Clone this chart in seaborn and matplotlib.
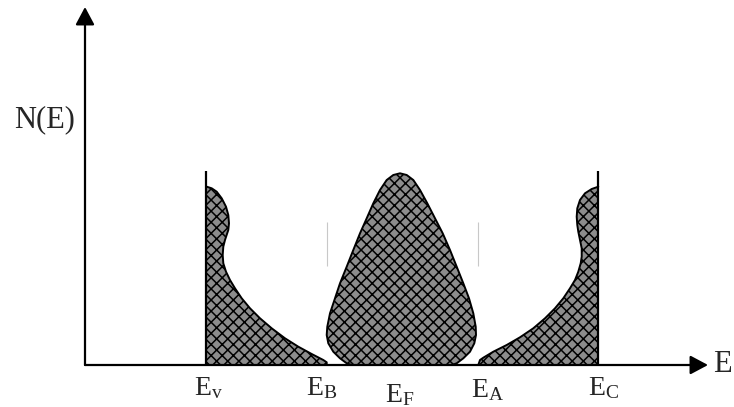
import matplotlib
matplotlib.use("Agg")
import matplotlib.pyplot as plt
import seaborn as sns

sns.set_style("white")
plt.rcParams["font.family"] = ["Liberation Serif", "DejaVu Serif"]
plt.rcParams["mathtext.fontset"] = "custom"
plt.rcParams["mathtext.rm"] = "Liberation Serif"
plt.rcParams["mathtext.it"] = "Liberation Serif:italic"
plt.rcParams["hatch.linewidth"] = 1.1

# Characteristic energies (arbitrary units)
level_labels = [r"$\mathrm{E}_\mathrm{v}$", r"$\mathrm{E}_\mathrm{B}$", r"$\mathrm{E}_\mathrm{F}$",
                r"$\mathrm{E}_\mathrm{A}$", r"$\mathrm{E}_\mathrm{C}$"]
level_E = [1.21, 2.42, 3.15, 3.93, 5.13]

# Valence band tail: edge energy versus N(E)
vb_N = [1.783, 1.767, 1.733, 1.667, 1.583, 1.500, 1.417, 1.350, 1.250, 1.183, 1.100,
        1.017, 0.933, 0.850, 0.767, 0.667, 0.567, 0.467, 0.367, 0.267, 0.183, 0.110,
        0.050, 0.027, 0.000]
vb_E = [1.217, 1.267, 1.317, 1.367, 1.410, 1.433, 1.440, 1.433, 1.400, 1.383, 1.377,
        1.383, 1.410, 1.450, 1.500, 1.567, 1.650, 1.750, 1.867, 2.000, 2.133, 2.267,
        2.383, 2.417, 2.417]

# Conduction band tail
cb_N = [1.783, 1.760, 1.717, 1.650, 1.567, 1.483, 1.400, 1.333, 1.250, 1.167, 1.083,
        1.017, 0.933, 0.850, 0.767, 0.667, 0.567, 0.467, 0.367, 0.277, 0.200, 0.133,
        0.073, 0.050, 0.000]
cb_E = [5.133, 5.067, 5.000, 4.950, 4.923, 4.917, 4.923, 4.933, 4.950, 4.967, 4.967,
        4.957, 4.933, 4.900, 4.850, 4.783, 4.700, 4.600, 4.483, 4.350, 4.217, 4.083,
        3.983, 3.950, 3.933]

# Defect states around the Fermi level
mid_N = [1.917, 1.900, 1.850, 1.750, 1.617, 1.467, 1.317, 1.150, 0.983, 0.817, 0.667,
         0.517, 0.383, 0.300, 0.217, 0.133, 0.067, 0.017, 0.000]
mid_left = [3.150, 3.083, 3.017, 2.950, 2.883, 2.817, 2.750, 2.683, 2.617, 2.550, 2.500,
            2.450, 2.423, 2.417, 2.433, 2.483, 2.550, 2.617, 2.667]
mid_right = [3.150, 3.217, 3.283, 3.350, 3.423, 3.500, 3.577, 3.650, 3.717, 3.783, 3.840,
             3.883, 3.907, 3.910, 3.893, 3.850, 3.783, 3.717, 3.667]

band_top = 1.94
axis_E_max, axis_N_max = 6.23, 3.58

fig = plt.figure(figsize=(7.34, 4.07), dpi=100)
ax = fig.add_axes([0, 0, 1, 1])
ax.set_xlim(-0.85, 6.49)
ax.set_ylim(-0.42, 3.65)
ax.axis("off")

fill_kw = dict(facecolor="#8c8c8c", edgecolor="black", hatch="xxx", linewidth=0)
ax.fill_betweenx(vb_N, level_E[0], vb_E, **fill_kw)
ax.fill_betweenx(cb_N, cb_E, level_E[4], **fill_kw)
ax.fill_betweenx(mid_N, mid_left, mid_right, **fill_kw)

line_kw = dict(color="black", linewidth=1.4, sort=False, estimator=None, ax=ax)
sns.lineplot(x=vb_E, y=vb_N, **line_kw)
sns.lineplot(x=cb_E, y=cb_N, **line_kw)
sns.lineplot(x=mid_left[::-1] + mid_right, y=mid_N[::-1] + mid_N, **line_kw)

# band edges
ax.vlines([level_E[0], level_E[4]], 0, band_top, color="black", linewidth=1.6)
ax.vlines([level_E[1], level_E[3]], 0.99, 1.43, color="#c8c8c8", linewidth=0.8)

# axes with arrows
arrow = dict(arrowstyle="-|>,head_length=0.75,head_width=0.4", mutation_scale=14.4,
             lw=1.6, color="black", shrinkA=0, shrinkB=0)
ax.annotate("", xy=(0, axis_N_max), xytext=(0, 0), arrowprops=arrow)
ax.annotate("", xy=(axis_E_max, 0), xytext=(0, 0), arrowprops=arrow)

ax.text(axis_E_max + 0.05, 0.0, "E", fontsize=22, ha="left", va="center")
ax.text(-0.10, 2.45, "N(E)", fontsize=22, ha="right", va="center")

# level labels: horizontal and vertical nudges in points
nudges = [(2, 0), (-4, 0), (0, -5), (7, -1.5), (4, 0)]
for lab, e, (dx, dy) in zip(level_labels, level_E, nudges):
    ax.annotate(lab, xy=(e, 0), xytext=(dx, -21.6 + dy), textcoords="offset points",
                fontsize=20, ha="center", va="baseline")

fig.savefig("out.png", dpi=100)
